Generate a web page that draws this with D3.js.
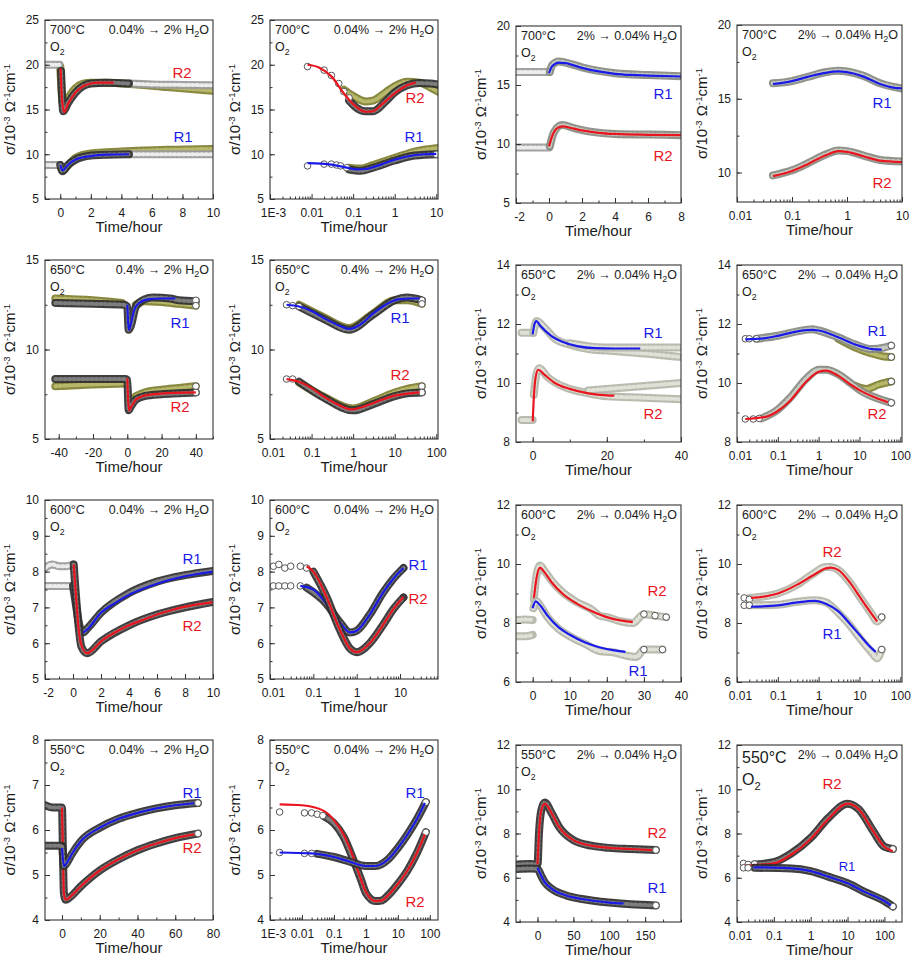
<!DOCTYPE html>
<html><head><meta charset="utf-8">
<script src="https://cdn.jsdelivr.net/npm/d3@7"></script>
<style>
body{margin:0;background:#fff}
text{font-family:"Liberation Sans",Arial,Helvetica,sans-serif;fill:#1a1a1a}
</style></head>
<body><svg id="c" width="915" height="960"></svg>
<script>
// ================= DATA =================
// Panel titles
const temps = ["700°C","700°C","700°C","700°C","650°C","650°C","650°C","650°C","600°C","600°C","600°C","600°C","550°C","550°C","550°C","550°C"];
const fromH2O = ["0.04%","0.04%","2%","2%","0.4%","0.4%","2%","2%","0.04%","0.04%","2%","2%","0.04%","0.04%","2%","2%"];
const toH2O   = ["2%","2%","0.04%","0.04%","2%","2%","0.04%","0.04%","2%","2%","0.04%","0.04%","2%","2%","0.04%","0.04%"];

// ---- Panel 1 (700°C, linear) ----
const p1_r2_pre = [[-1,20],[-0.5,20],[-0.05,20]];
const p1_r2_olive = [[0,19.8],[0.15,15.8],[0.3,15.4],[0.6,16.5],[1,17.4],[1.5,17.9],[2,18.0],[3,18.0],[5,17.8],[7,17.5],[10,17.1]];
const p1_r2_post = [[4.5,17.9],[6,17.8],[8,17.75],[10,17.7]];
const p1_r2_dark = [[0.05,19.3],[0.2,14.8],[0.5,15.7],[1,16.9],[2,17.9],[3,18.0],[4.5,17.9]];
const p1_r2_fit = [[0.02,19.6],[0.1,16.5],[0.25,14.7],[0.5,15.6],[1,16.9],[1.5,17.6],[2,17.9],[2.5,18.0],[3.5,18.0]];
const p1_r1_pre = [[-1,8.8],[-0.5,8.8],[-0.05,8.8]];
const p1_r1_olive = [[0,8.7],[0.15,8.3],[1,9.6],[2,10.1],[4,10.3],[7,10.5],[10,10.6]];
const p1_r1_post = [[4.5,10.0],[7,10.0],[10,10.0]];
const p1_r1_dark = [[0,8.8],[0.15,8.1],[0.5,8.8],[1,9.4],[2,9.85],[3,9.95],[4.5,10.0]];
const p1_r1_fit = [[0,8.8],[0.15,8.2],[0.5,8.8],[1,9.4],[2,9.8],[3,9.95],[4.5,10.0]];

// ---- Panel 2 (700°C, log) ----
const p2_r2_dots = [[0.008,19.8],[0.02,19.4],[0.03,18.8],[0.045,17.9],[0.06,17.0],[0.08,16.3]];
const p2_r2_olive = [[0.06,17.2],[0.1,16.5],[0.2,15.9],[0.3,16.0],[0.6,16.9],[1,17.6],[2,18.1],[4,18.0],[7,17.5],[11,17.0]];
const p2_r2_dark = [[0.08,16.0],[0.12,15.2],[0.2,14.8],[0.3,14.8],[0.6,15.9],[1,16.9],[2,17.7],[4,17.95],[7,17.9],[11,17.8]];
const p2_r2_fit = [[0.008,20.0],[0.015,19.7],[0.03,18.7],[0.06,16.8],[0.1,15.6],[0.2,14.75],[0.3,14.8],[0.5,15.6],[1,16.8],[2,17.7],[3.2,18.0]];
const p2_r1_dots = [[0.008,8.7],[0.02,8.9],[0.03,8.9],[0.04,8.8],[0.05,8.7],[0.07,8.5],[10,10.0]];
const p2_r1_olive = [[0.08,8.5],[0.15,8.4],[0.3,8.8],[1,9.6],[3,10.3],[11,10.7]];
const p2_r1_dark = [[0.08,8.3],[0.15,8.15],[0.3,8.5],[1,9.3],[3,9.85],[11,10.0]];
const p2_r1_fit = [[0.008,9.0],[0.03,8.85],[0.07,8.5],[0.12,8.3],[0.2,8.35],[0.5,8.9],[1,9.4],[2,9.75],[5,10.0],[10,10.05]];

// ---- Panel 3 (700°C, linear, drying) ----
const p3_r1_pre = [[-2,16.1],[-1,16.1],[0,16.1]];
const p3_r1_band = [[0.05,16.1],[0.2,16.7],[0.6,17.0],[1,16.9],[2,16.5],[3,16.2],[4,16.0],[6,15.85],[8,15.75]];
const p3_r1_fit = [[0,16.0],[0.2,16.6],[0.6,16.9],[1,16.85],[2,16.45],[3,16.15],[4,15.95],[5,15.85],[6,15.8],[8,15.72]];
const p3_r2_pre = [[-2,9.7],[-1,9.7],[0,9.7]];
const p3_r2_band = [[0.05,9.8],[0.3,11.0],[0.8,11.6],[1.5,11.35],[2.5,11.05],[4,10.85],[6,10.8],[8,10.75]];
const p3_r2_fit = [[0,9.8],[0.2,10.7],[0.5,11.35],[0.8,11.5],[1.5,11.3],[2,11.15],[3,10.95],[4,10.85],[6,10.78],[8,10.75]];

// ---- Panel 4 (700°C, log, drying) ----
const p4_r1_band = [[0.045,16.05],[0.1,16.2],[0.2,16.5],[0.4,16.8],[0.7,16.9],[1,16.85],[2,16.55],[4,16.05],[7,15.8],[10,15.7]];
const p4_r1_fit = [[0.045,16.0],[0.1,16.2],[0.2,16.5],[0.4,16.75],[0.7,16.85],[1,16.8],[2,16.5],[4,16.0],[7,15.75],[10,15.7]];
const p4_r2_band = [[0.045,9.8],[0.1,10.15],[0.2,10.65],[0.4,11.2],[0.7,11.5],[1,11.45],[2,11.15],[4,10.85],[10,10.75]];
const p4_r2_fit = [[0.045,9.75],[0.1,10.1],[0.2,10.6],[0.4,11.15],[0.7,11.45],[1,11.4],[2,11.1],[4,10.8],[10,10.7]];

// ---- Panel 5 (650°C, linear) ----
const p5_r1_olive_pre = [[-42,12.85],[-20,12.75],[-3,12.6]];
const p5_r1_olive_post = [[5,12.5],[10,12.7],[20,12.65],[30,12.55],[40,12.45]];
const p5_r1_dark = [[-42,12.6],[-20,12.55],[-2,12.5],[0,12.4],[0.8,11.1],[2,11.3],[5,12.4],[10,12.8],[15,12.9],[25,12.85],[30,12.75],[40,12.7]];
const p5_r1_fit = [[0,12.5],[0.5,11.5],[1,11.1],[2,11.4],[4,12.2],[7,12.6],[12,12.8],[20,12.85],[28,12.85]];
const p5_r1_dots = [[40,12.75],[40,12.45]];
const p5_r2_olive_pre = [[-42,7.95],[-20,8.05],[-1,8.1]];
const p5_r2_olive_post = [[5,7.4],[10,7.6],[20,7.75],[30,7.85],[40,7.95]];
const p5_r2_dark = [[-42,8.35],[-20,8.35],[-1,8.35],[0,8.3],[0.8,6.6],[2,6.8],[5,7.2],[10,7.4],[20,7.5],[30,7.55],[40,7.6]];
const p5_r2_fit = [[0,8.4],[0.5,7.2],[1,6.6],[2,6.75],[5,7.2],[10,7.42],[20,7.53],[40,7.6]];
const p5_r2_dots = [[40,7.95],[40,7.6]];

// ---- Panel 6 (650°C, log) ----
const p6_r1_dots = [[0.025,12.5],[0.035,12.45],[0.05,12.4],[45,12.75],[45,12.55]];
const p6_r1_olive = [[0.05,12.5],[0.2,11.8],[0.8,11.2],[3,12.0],[10,12.75],[20,12.75],[45,12.55]];
const p6_r1_dark = [[0.05,12.4],[0.2,11.7],[0.8,11.1],[3,11.95],[10,12.75],[20,12.9],[45,12.75]];
const p6_r1_fit = [[0.025,12.5],[0.05,12.4],[0.1,12.15],[0.2,11.75],[0.5,11.3],[0.8,11.15],[1.5,11.4],[3,12.0],[6,12.5],[12,12.8],[25,12.85],[40,12.85]];
const p6_r2_dots = [[0.025,8.35],[0.035,8.35],[45,7.95],[45,7.6]];
const p6_r2_olive = [[0.05,8.15],[0.2,7.35],[1,6.7],[3,7.1],[10,7.6],[20,7.8],[45,7.95]];
const p6_r2_dark = [[0.05,8.2],[0.2,7.3],[1,6.6],[3,6.95],[10,7.4],[20,7.55],[45,7.6]];
const p6_r2_fit = [[0.025,8.35],[0.05,8.2],[0.1,7.85],[0.2,7.35],[0.5,6.85],[0.9,6.65],[2,6.85],[5,7.2],[10,7.42],[20,7.53],[40,7.6]];

// ---- Panel 7 (650°C, linear, drying) ----
const p7_r1_pre = [[-3,11.7],[-1.5,11.7],[0,11.7]];
const p7_r1_band = [[0.2,11.7],[1,12.1],[3,11.9],[6,11.5],[10,11.3],[15,11.15],[20,11.1],[25,11.05],[30,11.0],[40,10.88]];
const p7_r1_upper = [[10,11.35],[15,11.25],[20,11.2],[30,11.2],[40,11.2]];
const p7_r1_fit = [[0,11.65],[0.5,12.0],[1,12.1],[2,11.95],[5,11.6],[8,11.4],[12,11.25],[17,11.18],[22,11.17],[29,11.17]];
const p7_r2_pre = [[-3,8.75],[-1.5,8.75],[0,8.75]];
const p7_r2_band = [[0.3,9.6],[1,10.3],[1.8,10.5],[4,10.2],[7,9.95],[10,9.8],[15,9.65],[20,9.55],[30,9.5],[40,9.45]];
const p7_r2_upper = [[15,9.75],[20,9.8],[30,9.9],[40,10.0]];
const p7_r2_fit = [[0,8.7],[0.3,9.5],[0.8,10.2],[1.5,10.45],[3,10.3],[6,10.0],[10,9.8],[15,9.65],[20,9.58],[22,9.57]];

// ---- Panel 8 (650°C, log, drying) ----
const p8_r1_dots = [[0.016,11.5],[0.02,11.5],[0.03,11.5],[60,11.27],[60,10.88]];
const p8_r1_olive = [[3,11.5],[8,11.2],[20,11.0],[40,10.9],[60,10.88]];
const p8_r1_band = [[0.03,11.5],[0.1,11.6],[0.3,11.75],[0.7,11.82],[1,11.78],[3,11.55],[8,11.3],[20,11.15],[40,11.2],[60,11.27]];
const p8_r1_fit = [[0.016,11.48],[0.05,11.52],[0.1,11.6],[0.3,11.75],[0.7,11.8],[1,11.78],[3,11.55],[8,11.3],[20,11.15],[35,11.13]];
const p8_r2_dots = [[0.016,8.78],[0.025,8.78],[0.035,8.8],[60,10.05],[60,9.33]];
const p8_r2_olive = [[8,9.9],[15,9.8],[30,9.95],[60,10.05]];
const p8_r2_band = [[0.04,8.8],[0.1,9.1],[0.2,9.5],[0.5,10.15],[1,10.45],[1.5,10.45],[3,10.3],[6,10.0],[12,9.7],[25,9.5],[60,9.33]];
const p8_r2_fit = [[0.016,8.78],[0.05,8.85],[0.1,9.05],[0.2,9.4],[0.5,10.05],[1,10.38],[1.5,10.42],[3,10.25],[6,9.95],[12,9.7],[25,9.5],[50,9.35]];

// ---- Panel 9 (600°C, linear) ----
const p9_r2_pre = [[-2,8.1],[-1.5,8.2],[-1,8.15],[-0.5,8.15],[0,8.2]];
const p9_r1_pre = [[-2,7.6],[-1,7.6],[0,7.6]];
const p9_r1_dark = [[0,7.6],[0.2,7.1],[0.4,6.6],[0.7,6.3],[1,6.4],[2,6.85],[4,7.4],[6,7.72],[8,7.9],[10,8.02]];
const p9_r1_fit = [[0,7.6],[0.2,7.1],[0.4,6.6],[0.7,6.3],[1,6.38],[2,6.85],[3,7.12],[4,7.35],[5,7.52],[6,7.66],[7,7.78],[8,7.87],[9,7.94],[10,8.0]];
const p9_r2_dark = [[0.05,8.2],[0.3,6.9],[0.6,5.9],[1,5.72],[2,6.05],[4,6.5],[6,6.8],[8,7.0],[10,7.15]];
const p9_r2_fit = [[0.05,8.2],[0.2,7.4],[0.4,6.4],[0.6,5.95],[1,5.72],[1.5,5.85],[2,6.05],[3,6.3],[4,6.5],[5,6.65],[6,6.8],[7,6.92],[8,7.02],[9,7.09],[10,7.15]];

// ---- Panel 10 (600°C, log) ----
const p10_r2_dots = [[0.012,8.15],[0.016,8.2],[0.022,8.1],[0.03,8.15],[0.05,8.15],[0.07,8.1],[12,7.28]];
const p10_r1_dots = [[0.012,7.6],[0.016,7.6],[0.022,7.6],[0.03,7.6],[0.05,7.6],[12,8.1]];
const p10_r1_dark = [[0.07,7.55],[0.2,7.1],[0.4,6.6],[0.7,6.3],[1,6.35],[2,6.8],[4,7.4],[7,7.8],[12,8.1]];
const p10_r1_fit = [[0.05,7.6],[0.1,7.5],[0.2,7.1],[0.4,6.6],[0.7,6.3],[1,6.35],[2,6.8],[4,7.4],[7,7.8],[12,8.1]];
const p10_r2_dark = [[0.1,8.0],[0.2,7.3],[0.4,6.4],[0.7,5.85],[1,5.75],[2,6.0],[4,6.5],[7,6.95],[12,7.28]];
const p10_r2_fit = [[0.07,8.15],[0.1,8.0],[0.2,7.3],[0.4,6.4],[0.7,5.85],[1,5.75],[2,6.0],[4,6.5],[7,6.95],[12,7.3]];

// ---- Panel 11 (600°C, linear, drying) ----
const p11_r2_pre = [[-4.5,8.1],[-2,8.12],[0,8.1]];
const p11_r2_band = [[0.3,8.8],[1,9.6],[2,9.95],[3,9.8],[5,9.45],[8,9.05],[12,8.7],[16,8.45],[18,8.25],[20,8.2],[24,8.05],[27,8.0],[30,8.3],[33,8.25],[36,8.2]];
const p11_r2_fit = [[0.3,8.8],[1,9.5],[2,9.88],[3,9.75],[5,9.4],[8,9.0],[12,8.65],[16,8.4],[20,8.2],[24,8.08],[27,8.03]];
const p11_r2_dots = [[30,8.3],[33,8.25],[36,8.2]];
const p11_r1_pre = [[-4.5,7.55],[-2,7.55],[0,7.6]];
const p11_r1_band = [[0.2,8.5],[1,8.75],[2,8.6],[4,8.2],[7,7.8],[10,7.55],[14,7.3],[18,7.05],[22,7.0],[25,6.9],[28,6.85],[30,7.1],[35,7.1]];
const p11_r1_fit = [[0,8.5],[0.8,8.73],[2,8.6],[4,8.25],[7,7.85],[10,7.6],[14,7.35],[18,7.18],[22,7.07],[25,7.02]];
const p11_r1_dots = [[30,7.1],[35,7.1]];

// ---- Panel 12 (600°C, log, drying) ----
const p12_r2_dots = [[0.015,8.85],[0.02,8.8],[35,8.2]];
const p12_r2_band = [[0.02,8.85],[0.1,9.0],[0.3,9.3],[0.7,9.65],[1.5,9.9],[2,9.9],[3,9.8],[6,9.35],[10,8.9],[20,8.3],[27,8.05],[35,8.2]];
const p12_r2_fit = [[0.022,8.85],[0.05,8.9],[0.1,9.0],[0.3,9.3],[0.7,9.6],[1.5,9.85],[2,9.88],[3,9.8],[6,9.35],[10,8.9],[20,8.3],[27,8.05]];
const p12_r1_dots = [[0.015,8.6],[0.02,8.6],[35,7.1]];
const p12_r1_band = [[0.02,8.6],[0.1,8.62],[0.3,8.72],[0.8,8.77],[1.5,8.7],[3,8.35],[6,7.9],[10,7.5],[20,7.0],[27,6.8],[35,7.1]];
const p12_r1_fit = [[0.022,8.55],[0.1,8.6],[0.3,8.7],[0.8,8.75],[1.5,8.65],[3,8.4],[6,7.95],[10,7.6],[18,7.2],[25,7.02]];

// ---- Panel 13 (550°C, linear) ----
const p13_r2_dark = [[-9,6.55],[-5,6.5],[-1,6.5],[0,6.5],[0.5,5.5],[1,4.6],[2,4.45],[4,4.5],[10,4.75],[20,5.1],[30,5.35],[40,5.55],[50,5.7],[60,5.82],[72,5.92]];
const p13_r2_fit = [[0,6.5],[0.5,5.5],[1,4.6],[2,4.45],[4,4.5],[10,4.75],[20,5.1],[30,5.35],[40,5.55],[50,5.7],[60,5.82],[72,5.92]];
const p13_r1_dark = [[-9,5.65],[-4,5.65],[0,5.65],[1,5.2],[3,5.3],[5,5.45],[10,5.75],[20,6.05],[30,6.25],[40,6.38],[50,6.48],[60,6.55],[72,6.6]];
const p13_r1_fit = [[0,5.6],[1,5.2],[3,5.3],[5,5.45],[10,5.75],[20,6.05],[30,6.25],[40,6.38],[50,6.48],[60,6.55],[72,6.6]];
const p13_dots = [[72,6.6],[72,5.92]];

// ---- Panel 14 (550°C, log) ----
const p14_r2_dots = [[0.002,6.4],[0.012,6.38],[0.02,6.38],[0.03,6.35],[0.045,6.32],[75,5.95]];
const p14_r2_dark = [[0.05,6.3],[0.1,6.15],[0.2,5.85],[0.4,5.35],[0.7,4.9],[1,4.6],[2,4.42],[3,4.43],[5,4.55],[10,4.8],[20,5.1],[40,5.5],[75,5.95]];
const p14_r2_fit = [[0.002,6.57],[0.01,6.55],[0.05,6.42],[0.1,6.22],[0.2,5.9],[0.4,5.4],[0.7,4.9],[1,4.62],[2,4.42],[3,4.43],[5,4.55],[10,4.8],[20,5.1],[40,5.5],[70,5.9]];
const p14_r1_dots = [[0.002,5.5],[0.012,5.48],[0.02,5.48],[75,6.62]];
const p14_r1_dark = [[0.03,5.47],[0.1,5.4],[0.3,5.3],[1,5.2],[2,5.2],[5,5.35],[10,5.6],[20,5.9],[40,6.25],[75,6.62]];
const p14_r1_fit = [[0.002,5.5],[0.02,5.48],[0.1,5.4],[0.3,5.3],[1,5.2],[2,5.2],[5,5.35],[10,5.6],[20,5.9],[40,6.25],[70,6.6]];

// ---- Panel 15 (550°C, linear, drying) ----
const p15_r2_dark = [[-28,6.6],[-10,6.62],[0,6.6],[2,8.0],[5,9.0],[10,9.4],[20,8.9],[30,8.3],[50,7.7],[75,7.45],[100,7.35],[130,7.3],[165,7.25]];
const p15_r2_fit = [[0,6.6],[2,8.0],[5,9.0],[10,9.35],[20,8.9],[30,8.3],[50,7.7],[75,7.45],[100,7.35],[130,7.3],[160,7.25]];
const p15_r1_dark = [[-28,6.4],[-10,6.42],[0,6.4],[5,6.1],[10,5.8],[20,5.5],[40,5.2],[60,5.05],[80,4.95],[100,4.88],[130,4.8],[165,4.75]];
const p15_r1_fit = [[0,6.45],[5,6.1],[10,5.8],[20,5.5],[40,5.2],[60,5.05],[80,4.95],[100,4.88],[120,4.84]];
const p15_dots = [[165,7.25],[165,4.75]];

// ---- Panel 16 (550°C, log, drying) ----
const p16_r2_dots = [[0.015,6.65],[0.02,6.6],[0.03,6.62],[170,7.3]];
const p16_r2_dark = [[0.03,6.6],[0.1,6.7],[0.3,7.1],[1,7.8],[3,8.7],[10,9.35],[20,9.1],[50,8.1],[100,7.4],[170,7.3]];
const p16_r2_fit = [[0.015,6.55],[0.1,6.65],[0.3,7.05],[1,7.75],[3,8.65],[10,9.35],[20,9.1],[50,8.1],[100,7.4],[170,7.2]];
const p16_r1_dots = [[0.015,6.45],[0.02,6.45],[170,4.7]];
const p16_r1_dark = [[0.03,6.45],[0.3,6.42],[1,6.3],[3,6.05],[10,5.75],[30,5.35],[100,4.95],[170,4.7]];
const p16_r1_fit = [[0.028,6.47],[0.1,6.46],[0.3,6.42],[1,6.3],[3,6.05],[10,5.75],[30,5.35],[100,4.95],[150,4.75]];

// ---- Axis ticks ----
const ticks_lin_p1 = [0,2,4,6,8,10];
const ticks_lin_p3 = [-2,0,2,4,6,8];
const ticks_lin_p5 = [-40,-20,0,20,40];
const ticks_lin_p7 = [0,20,40];
const ticks_lin_p9 = [-2,0,2,4,6,8,10];
const ticks_lin_p11 = [0,10,20,30,40];
const ticks_lin_p13 = [0,20,40,60,80];
const ticks_lin_p15 = [0,50,100,150];
const ticks_log_a = [0.001,0.01,0.1,1,10];
const ticks_log_b = [0.01,0.1,1,10];
const ticks_log_c = [0.01,0.1,1,10,100];
const ticks_log_d = [0.001,0.01,0.1,1,10,100];
const yt_700a = [5,10,15,20,25];
const yt_700b = [5,10,15,20];
const yt_700c = [10,15,20];
const yt_650a = [5,10,15];
const yt_650b = [8,10,12,14];
const yt_600a = [5,6,7,8,9,10];
const yt_600b = [6,8,10,12];
const yt_550a = [4,5,6,7,8];
const yt_550b = [4,6,8,10,12];

// ================= STYLES / LAYOUT =================
const bandStyle = {
  dark:  ["#2f2f2f","#7d7d7d"],
  light: ["#9a9a9a","#ececec"],
  olive: ["#7e7e30","#b8b86a"],
  gray:  ["#858a80","#c5c9bf"],
  pale:  ["#b3b5a8","#dfe0d6"]
};
const RED = "#e8151f", BLUE = "#1a1ae8";

const panels = [
 {box:[45,20,213,199], log:false, xd:[-1,10], yd:[5,25], xt:ticks_lin_p1, xm:1, yt:yt_700a, ym:2.5,
  s:[["band",p1_r2_olive,"olive"],["band",p1_r2_pre,"light"],["band",p1_r2_post,"light"],["band",p1_r2_dark,"dark"],["fit",p1_r2_fit,RED],
     ["band",p1_r1_olive,"olive"],["band",p1_r1_pre,"light"],["band",p1_r1_post,"light"],["band",p1_r1_dark,"dark"],["fit",p1_r1_fit,BLUE]],
  lab:[["R2",182,73,RED],["R1",183,137,BLUE]]},
 {box:[270,20,438,199], log:true, xd:[0.001,11], yd:[5,25], xt:ticks_log_a, yt:yt_700a, ym:2.5,
  s:[["band",p2_r2_olive,"olive"],["band",p2_r2_dark,"dark"],["dots",p2_r2_dots],["fit",p2_r2_fit,RED],
     ["band",p2_r1_olive,"olive"],["band",p2_r1_dark,"dark"],["dots",p2_r1_dots],["fit",p2_r1_fit,BLUE]],
  lab:[["R2",415,98,RED],["R1",414,137,BLUE]]},
 {box:[516,26,681,203], log:false, xd:[-2,8], yd:[5,20], xt:ticks_lin_p3, xm:1, yt:yt_700b, ym:2.5,
  s:[["band",p3_r1_pre,"light"],["band",p3_r1_band,"gray"],["fit",p3_r1_fit,BLUE],
     ["band",p3_r2_pre,"light"],["band",p3_r2_band,"gray"],["fit",p3_r2_fit,RED]],
  lab:[["R1",663,94,BLUE],["R2",663,156,RED]]},
 {box:[737,25,902,202], log:true, xd:[0.01,10], yd:[8,20], xt:ticks_log_b, yt:yt_700c, ym:2.5,
  s:[["band",p4_r1_band,"gray"],["fit",p4_r1_fit,BLUE],["band",p4_r2_band,"gray"],["fit",p4_r2_fit,RED]],
  lab:[["R1",882,103,BLUE],["R2",882,183,RED]]},

 {box:[45,260,213,439], log:false, xd:[-48,50], yd:[5,15], xt:ticks_lin_p5, xm:10, yt:yt_650a, ym:2.5,
  s:[["band",p5_r1_olive_pre,"olive"],["band",p5_r1_olive_post,"olive"],["band",p5_r1_dark,"dark"],["dots",p5_r1_dots],["fit",p5_r1_fit,BLUE],
     ["band",p5_r2_olive_pre,"olive"],["band",p5_r2_olive_post,"olive"],["band",p5_r2_dark,"dark"],["dots",p5_r2_dots],["fit",p5_r2_fit,RED]],
  lab:[["R1",180,323,BLUE],["R2",180,407,RED]]},
 {box:[270,260,438,439], log:true, xd:[0.01,110], yd:[5,15], xt:ticks_log_c, yt:yt_650a, ym:2.5,
  s:[["band",p6_r1_olive,"olive"],["band",p6_r1_dark,"dark"],["dots",p6_r1_dots],["fit",p6_r1_fit,BLUE],
     ["band",p6_r2_olive,"olive"],["band",p6_r2_dark,"dark"],["dots",p6_r2_dots],["fit",p6_r2_fit,RED]],
  lab:[["R1",400,318,BLUE],["R2",400,375,RED]]},
 {box:[516,265,681,442], log:false, xd:[-4.5,40], yd:[8,14], xt:ticks_lin_p7, xm:10, yt:yt_650b, ym:1,
  s:[["band",p7_r1_pre,"pale"],["band",p7_r1_band,"pale"],["band",p7_r1_upper,"pale"],["fit",p7_r1_fit,BLUE],
     ["band",p7_r2_pre,"pale"],["band",p7_r2_band,"pale"],["band",p7_r2_upper,"pale"],["fit",p7_r2_fit,RED]],
  lab:[["R1",653,333,BLUE],["R2",653,414,RED]]},
 {box:[737,265,902,442], log:true, xd:[0.01,110], yd:[8,14], xt:ticks_log_c, yt:yt_650b, ym:1,
  s:[["band",p8_r1_olive,"olive"],["band",p8_r1_band,"gray"],["dots",p8_r1_dots],["fit",p8_r1_fit,BLUE],
     ["band",p8_r2_olive,"olive"],["band",p8_r2_band,"gray"],["dots",p8_r2_dots],["fit",p8_r2_fit,RED]],
  lab:[["R1",877,331,BLUE],["R2",877,414,RED]]},

 {box:[45,500,213,679], log:false, xd:[-2,10], yd:[5,10], xt:ticks_lin_p9, xm:1, yt:yt_600a, ym:0.5,
  s:[["band",p9_r2_pre,"light"],["band",p9_r1_pre,"light"],["band",p9_r1_dark,"dark"],["fit",p9_r1_fit,BLUE],
     ["band",p9_r2_dark,"dark"],["fit",p9_r2_fit,RED]],
  lab:[["R1",192,559,BLUE],["R2",192,626,RED]]},
 {box:[270,500,438,679], log:true, xd:[0.01,75], yd:[5,10], xt:ticks_log_b, yt:yt_600a, ym:0.5,
  s:[["dots",p10_r2_dots],["dots",p10_r1_dots],["band",p10_r1_dark,"dark"],["fit",p10_r1_fit,BLUE],
     ["band",p10_r2_dark,"dark"],["fit",p10_r2_fit,RED]],
  lab:[["R1",418,565,BLUE],["R2",418,599,RED]]},
 {box:[516,505,681,682], log:false, xd:[-4.5,40], yd:[6,12], xt:ticks_lin_p11, xm:5, yt:yt_600b, ym:1,
  s:[["band",p11_r2_pre,"pale"],["band",p11_r2_band,"pale"],["dots",p11_r2_dots],["fit",p11_r2_fit,RED],
     ["band",p11_r1_pre,"pale"],["band",p11_r1_band,"pale"],["dots",p11_r1_dots],["fit",p11_r1_fit,BLUE]],
  lab:[["R2",657,591,RED],["R1",638,671,BLUE]]},
 {box:[737,505,902,682], log:true, xd:[0.01,110], yd:[6,12], xt:ticks_log_c, yt:yt_600b, ym:1,
  s:[["band",p12_r2_band,"pale"],["dots",p12_r2_dots],["fit",p12_r2_fit,RED],
     ["band",p12_r1_band,"pale"],["dots",p12_r1_dots],["fit",p12_r1_fit,BLUE]],
  lab:[["R2",832,552,RED],["R1",832,634,BLUE]]},

 {box:[45,740,213,920], log:false, xd:[-9,80], yd:[4,8], xt:ticks_lin_p13, xm:10, yt:yt_550a, ym:0.5,
  s:[["band",p13_r2_dark,"dark"],["fit",p13_r2_fit,RED],["band",p13_r1_dark,"dark"],["fit",p13_r1_fit,BLUE],["dots",p13_dots]],
  lab:[["R1",192,793,BLUE],["R2",192,848,RED]]},
 {box:[270,740,438,920], log:true, xd:[0.001,180], yd:[4,8], xt:ticks_log_d, yt:yt_550a, ym:0.5,
  s:[["band",p14_r2_dark,"dark"],["dots",p14_r2_dots],["fit",p14_r2_fit,RED],["band",p14_r1_dark,"dark"],["dots",p14_r1_dots],["fit",p14_r1_fit,BLUE]],
  lab:[["R1",415,793,BLUE],["R2",415,902,RED]]},
 {box:[516,745,681,922], log:false, xd:[-30,200], yd:[4,12], xt:ticks_lin_p15, xm:25, yt:yt_550b, ym:1,
  s:[["band",p15_r2_dark,"dark"],["fit",p15_r2_fit,RED],["band",p15_r1_dark,"dark"],["fit",p15_r1_fit,BLUE],["dots",p15_dots]],
  lab:[["R2",657,833,RED],["R1",657,888,BLUE]]},
 {box:[737,745,902,922], log:true, xd:[0.01,300], yd:[4,12], xt:ticks_log_c, yt:yt_550b, ym:1, big:true,
  s:[["band",p16_r2_dark,"dark"],["dots",p16_r2_dots],["fit",p16_r2_fit,RED],["band",p16_r1_dark,"dark"],["dots",p16_r1_dots],["fit",p16_r1_fit,BLUE]],
  lab:[["R2",832,784,RED],["R1",847,866,BLUE,13]]}
];

// ================= DRAW =================
const svg = d3.select("#c");
const defs = svg.append("defs");
const FONT = '"Liberation Sans",Arial,Helvetica,sans-serif';

function fmtLog(d){ return d===0.001 ? "1E-3" : String(d); }
function fmtLin(d){ return String(d); }

function logMinors(dom){
  const out=[]; const lo=Math.floor(Math.log10(dom[0])), hi=Math.ceil(Math.log10(dom[1]));
  for(let e=lo;e<=hi;e++) for(let k=2;k<=9;k++){ const v=k*Math.pow(10,e); if(v>dom[0]&&v<dom[1]) out.push(v); }
  return out;
}
function linMinors(dom,step){
  const out=[]; const s=Math.ceil(dom[0]/step-1e-9);
  for(let v=s*step; v<=dom[1]+1e-9; v+=step) out.push(+v.toFixed(6));
  return out;
}

panels.forEach((p,i)=>{
  const [l,t,r,b]=p.box;
  const g = svg.append("g");
  const x = (p.log?d3.scaleLog():d3.scaleLinear()).domain(p.xd).range([l,r]);
  const y = d3.scaleLinear().domain(p.yd).range([b,t]);
  const cid="clip"+i;
  defs.append("clipPath").attr("id",cid).append("rect").attr("x",l).attr("y",t).attr("width",r-l).attr("height",b-t);
  const plot = g.append("g").attr("clip-path",`url(#${cid})`);
  const line = d3.line().x(d=>x(d[0])).y(d=>y(d[1])).curve(d3.curveMonotoneX);

  p.s.forEach(s=>{
    const [type,data,c]=s;
    if(type==="band"){
      const st=bandStyle[c];
      plot.append("path").attr("d",line(data)).attr("fill","none").attr("stroke",st[0])
        .attr("stroke-width",8).attr("stroke-linecap","round").attr("stroke-linejoin","round").attr("opacity",0.92);
      plot.append("path").attr("d",line(data)).attr("fill","none").attr("stroke",st[1])
        .attr("stroke-width",4).attr("stroke-linecap","round").attr("stroke-linejoin","round")
        .attr("stroke-dasharray","1.5 3");
    } else if(type==="dots"){
      plot.selectAll(null).data(data).enter().append("circle")
        .attr("cx",d=>x(d[0])).attr("cy",d=>y(d[1])).attr("r",3.3)
        .attr("fill","#fff").attr("stroke","#555").attr("stroke-width",1);
    } else {
      plot.append("path").attr("d",line(data)).attr("fill","none").attr("stroke",c).attr("stroke-width",2.2);
    }
  });

  // axes
  const xMinor = p.log ? logMinors(p.xd) : linMinors(p.xd,p.xm);
  const yMinor = linMinors(p.yd,p.ym);
  const styleAxis = sel=>{ sel.select(".domain").remove(); sel.selectAll("line").attr("stroke","#333");
    sel.selectAll("text").attr("font-size",12).attr("font-family",FONT).attr("fill","#1a1a1a"); sel.attr("font-family",FONT); };
  g.append("g").attr("transform",`translate(0,${b})`)
    .call(d3.axisBottom(x).tickValues(xMinor).tickSize(-2.5).tickSizeOuter(0).tickFormat("")).call(styleAxis);
  const xax = g.append("g").attr("transform",`translate(0,${b})`)
    .call(d3.axisBottom(x).tickValues(p.xt).tickSize(-5).tickSizeOuter(0).tickPadding(9).tickFormat(p.log?fmtLog:fmtLin)).call(styleAxis);
  // nudge a label sitting exactly on the left frame so it clears the lowest y label
  xax.selectAll("text").filter(d=>Math.abs(x(d)-l)<2).attr("dx",3);
  g.append("g").attr("transform",`translate(${l},0)`)
    .call(d3.axisLeft(y).tickValues(yMinor).tickSize(-2.5).tickSizeOuter(0).tickFormat("")).call(styleAxis);
  g.append("g").attr("transform",`translate(${l},0)`)
    .call(d3.axisLeft(y).tickValues(p.yt).tickSize(-5).tickSizeOuter(0).tickPadding(6).tickFormat(fmtLin)).call(styleAxis);

  g.append("rect").attr("x",l).attr("y",t).attr("width",r-l).attr("height",b-t)
    .attr("fill","none").attr("stroke","#333").attr("stroke-width",1.1);

  // annotations
  const fs = p.big?16:12.5;
  g.append("text").attr("x",l+5).attr("y",t+(p.big?18:14)).attr("font-size",fs).text(temps[i]);
  const o2 = g.append("text").attr("x",l+5).attr("y",t+(p.big?40:31)).attr("font-size",fs);
  o2.append("tspan").text("O");
  o2.append("tspan").attr("font-size",fs*0.7).attr("dy",fs*0.3).text("2");
  const cond = g.append("text").attr("x",r-4).attr("y",t+14).attr("text-anchor","end").attr("font-size",12.5);
  cond.append("tspan").text(`${fromH2O[i]} \u2192 ${toH2O[i]} H`);
  cond.append("tspan").attr("font-size",9).attr("dy",3).text("2");
  cond.append("tspan").attr("dy",-3).text("O");

  // R labels
  p.lab.forEach(lb=>{
    g.append("text").attr("x",lb[1]).attr("y",lb[2]).attr("text-anchor","middle").attr("dy","0.35em")
      .attr("font-size",lb[4]||15).style("fill",lb[3]).text(lb[0]);
  });

  // axis titles
  g.append("text").attr("x",(l+r)/2).attr("y",b+33).attr("text-anchor","middle").attr("font-size",15).text("Time/hour");
  const yl = g.append("text").attr("transform",`translate(${l-30},${(t+b)/2}) rotate(-90)`)
    .attr("text-anchor","middle").attr("font-size",15);
  yl.append("tspan").text("\u03C3/10");
  yl.append("tspan").attr("font-size",9.5).attr("dy",-5).text("-3");
  yl.append("tspan").attr("dy",5).text(" \u03A9");
  yl.append("tspan").attr("font-size",9.5).attr("dy",-5).text("-1");
  yl.append("tspan").attr("dy",5).text("cm");
  yl.append("tspan").attr("font-size",9.5).attr("dy",-5).text("-1");
});
</script>
</body></html>
